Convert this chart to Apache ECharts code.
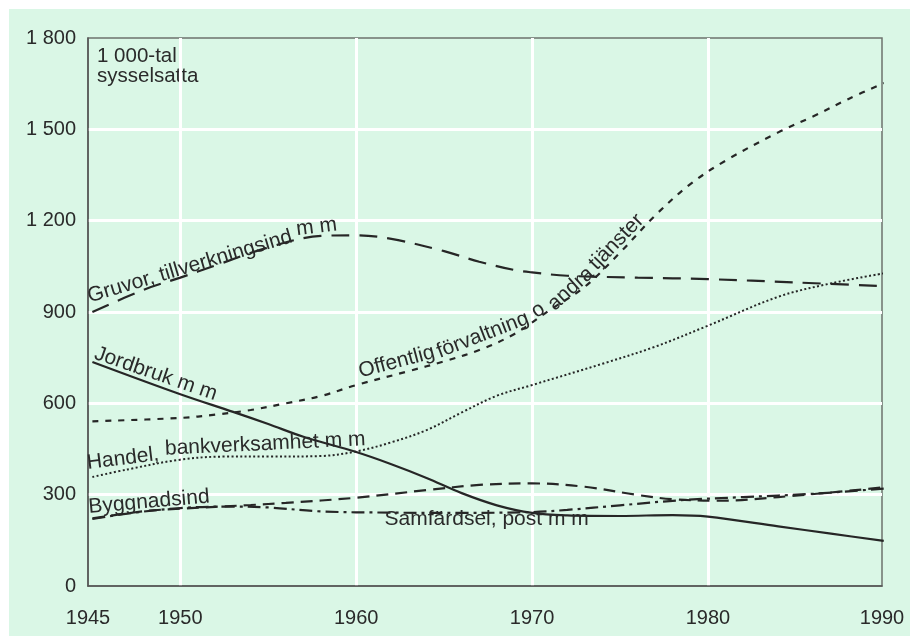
<!DOCTYPE html>
<html>
<head>
<meta charset="utf-8">
<title>Sysselsatta per näringsgren 1945-1990</title>
<script src="https://cdn.jsdelivr.net/npm/echarts@6/dist/echarts.min.js"></script>
<style>
  html, body { margin: 0; padding: 0; background: #fff; }
  .box { position: absolute; left: 9px; top: 9px; width: 901px; height: 627px; background: #daf7e6; }
  #chart { width: 901px; height: 627px; }
</style>
</head>
<body>
<div class="box"><div id="chart"></div></div>
<script>
// 1 000-tal sysselsatta
var gruvorYears = [1945, 1948, 1950, 1952, 1955, 1958, 1960, 1962, 1965, 1967, 1969, 1970, 1972, 1976, 1980, 1985, 1990]
var gruvorValues = [900, 975, 1013, 1053, 1112, 1150, 1152, 1140, 1100, 1065, 1038, 1030, 1019, 1013, 1008, 997, 985]

var offentligYears = [1945, 1950, 1952, 1954, 1956, 1958, 1960, 1963, 1965, 1967, 1969, 1971, 1973, 1975, 1977, 1979, 1981, 1984, 1986, 1988, 1990]
var offentligValues = [541, 552, 563, 578, 600, 624, 660, 706, 738, 775, 828, 906, 983, 1095, 1217, 1320, 1397, 1490, 1543, 1600, 1652]

var handelYears = [1945, 1947, 1950, 1952.5, 1955, 1958, 1960, 1962, 1964, 1966, 1968, 1970, 1974, 1977, 1980, 1984, 1987, 1990]
var handelValues = [358, 383, 415, 425, 425, 427, 442, 472, 512, 570, 625, 660, 730, 786, 855, 950, 994, 1027]

var jordbrukYears = [1945, 1950, 1953, 1955, 1957, 1960, 1962, 1964, 1966, 1968, 1970, 1972, 1975, 1978, 1980, 1984, 1987, 1990]
var jordbrukValues = [736, 630, 572, 532, 490, 440, 400, 355, 305, 265, 240, 232, 230, 233, 228, 196, 172, 148]

var byggYears = [1945, 1948, 1950, 1954, 1956, 1960, 1964, 1967, 1970, 1973, 1976, 1978, 1980.5, 1984, 1990]
var byggValues = [222, 246, 254, 266, 273, 290, 315, 332, 337, 326, 299, 285, 280, 292, 324]

var samfYears = [1945, 1947, 1950, 1953, 1955, 1958, 1962, 1966, 1970, 1972, 1975, 1978.5, 1982, 1986, 1990]
var samfValues = [220, 238, 256, 261, 258, 245, 241, 240, 243, 250, 265, 282, 292, 303, 320]

// axelns början ligger strax före 1945 och märks 1945
var xTicks = [1944.75, 1950, 1960, 1970, 1980, 1989.9]
var xTickLabels = ['1945', '1950', '1960', '1970', '1980', '1990']
var yTicks = [0, 300, 600, 900, 1200, 1500, 1800]
var yTickLabels = ['0', '300', '600', '900', '1 200', '1 500', '1 800']

var FONT = 'Liberation Sans, Arial, Helvetica, sans-serif'
var INK = '#262626'

function pairs(xs, ys) {
  return xs.map(function (x, i) { return [x, ys[i]] })
}

// text längs kurvorna: [text, år, värde, vinkel]
var gruvorLabels = [['Gruvor, tillverkningsind', 1950.55, 1049, 16.6], ['m m', 1957.75, 1179, 7]]
var offentligLabels = [['Offentlig', 1962.3, 736, 15], ['förvaltning', 1967.2, 824, 21], ['o', 1970.35, 906, 32], ['andra', 1972.2, 976, 42], ['tjänster', 1974.8, 1130, 46]]
var handelLabels = [['Handel,', 1946.74, 418, 7], ['bankverksamhet m m', 1954.83, 466, 2.7]]
var jordbrukLabels = [['Jordbruk m m', 1948.6, 697, -19]]
var byggLabels = [['Byggnadsind', 1948.22, 276, 5]]
var samfLabels = [['Samfärdsel, post m m', 1967.42, 220, 0]]

function marks(list) {
  return {
    silent: true,
    symbol: 'circle',
    symbolSize: 0,
    data: list.map(function (l) {
      return {
        coord: [l[1], l[2]],
        label: {
          show: true,
          position: 'inside',
          formatter: l[0],
          rotate: l[3],
          color: '#2a2a2a',
          fontSize: 21,
          fontFamily: FONT
        }
      }
    })
  }
}

function lineSeries(name, xs, ys, dash, width, labels) {
  return {
    name: name,
    type: 'line',
    data: pairs(xs, ys),
    smooth: 0.35,
    showSymbol: false,
    clip: false,
    silent: true,
    lineStyle: {
      color: INK,
      width: width,
      type: dash,
      cap: 'butt'
    },
    markPoint: marks(labels)
  }
}

var myChart = echarts.init(document.getElementById('chart'))
var option = {
  animation: false,
  backgroundColor: 'transparent',
  textStyle: { fontFamily: FONT },
  grid: {
    left: 79,
    top: 29,
    width: 794,
    height: 548,
    show: true,
    backgroundColor: 'transparent',
    borderColor: '#6e736e',
    borderWidth: 1.5
  },
  xAxis: {
    type: 'value',
    min: xTicks[0],
    max: xTicks[xTicks.length - 1],
    axisLine: { show: true, lineStyle: { color: '#555', width: 1.5 } },
    axisTick: { show: false, customValues: xTicks },
    axisLabel: {
      customValues: xTicks,
      margin: 22,
      fontSize: 20,
      color: '#2a2a2a',
      formatter: function (v) { return xTickLabels[xTicks.indexOf(v)] || '' }
    },
    splitLine: {
      show: true,
      showMinLine: false,
      showMaxLine: false,
      lineStyle: { color: '#fff', width: 3 }
    }
  },
  yAxis: {
    type: 'value',
    min: 0,
    max: 1800,
    interval: 300,
    axisLine: { show: true, lineStyle: { color: '#555', width: 1.5 } },
    axisTick: { show: false },
    axisLabel: {
      margin: 12,
      fontSize: 20,
      color: '#2a2a2a',
      formatter: function (v) { return yTickLabels[yTicks.indexOf(v)] }
    },
    splitLine: {
      show: true,
      showMinLine: false,
      showMaxLine: false,
      lineStyle: { color: '#fff', width: 3 }
    }
  },
  graphic: [
    {
      type: 'text',
      left: 88,
      top: 37,
      style: {
        text: '1 000-tal\nsysselsatta',
        font: '20.5px ' + FONT,
        lineHeight: 20,
        fill: '#2a2a2a'
      }
    }
  ],
  series: [
    lineSeries('Gruvor, tillverkningsind m m', gruvorYears, gruvorValues, [18, 10], 2.2, gruvorLabels),
    lineSeries('Offentlig förvaltning o andra tjänster', offentligYears, offentligValues, [6, 7], 2.2, offentligLabels),
    lineSeries('Handel, bankverksamhet m m', handelYears, handelValues, [2, 2.4], 2, handelLabels),
    lineSeries('Jordbruk m m', jordbrukYears, jordbrukValues, 'solid', 2.2, jordbrukLabels),
    lineSeries('Byggnadsind', byggYears, byggValues, [12, 7], 2.2, byggLabels),
    lineSeries('Samfärdsel, post m m', samfYears, samfValues, [13, 5, 3, 5], 2.2, samfLabels)
  ]
}

option && myChart.setOption(option)
</script>
</body>
</html>
